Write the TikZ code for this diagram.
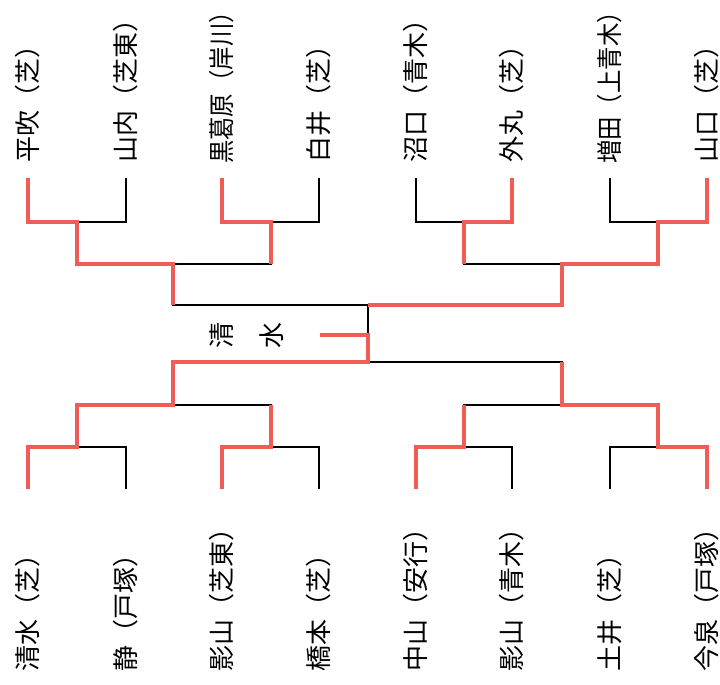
\documentclass[tikz,border=0pt]{standalone}
\usepackage{fontspec}
\usepackage{graphicx}
\newfontfamily\jpfont{Noto Sans CJK JP}
\definecolor{winred}{RGB}{240,92,88}
\begin{document}
\begin{tikzpicture}[x=1pt,y=-1pt,
  namebox/.style={rotate=90,inner sep=0pt,font=\jpfont\fontsize{26pt}{26pt}\selectfont,
    text height=22.9pt,text depth=3.1pt},
  labeltop/.style={namebox,anchor=west},
  labelbot/.style={namebox,anchor=west},
  bline/.style={draw=black,line width=1.3pt},
  rline/.style={draw=winred,line width=4pt}]
\useasboundingbox (0,0) rectangle (720,685);
% leaf coordinates
\foreach \i/\x in {1/28,2/126,3/222,4/319,5/416,6/512,7/610,8/707}{
  \coordinate (t\i) at (\x,178);
  \coordinate (b\i) at (\x,489);
}
% junctions top
\coordinate (ta1) at (77,222);
\coordinate (ta2) at (271,222);
\coordinate (ta3) at (464,222);
\coordinate (ta4) at (658,222);
\coordinate (tb1) at (173,264);
\coordinate (tb2) at (562,264);
\coordinate (tc) at (368,305);
% junctions bottom
\coordinate (ba1) at (77,447);
\coordinate (ba2) at (271,447);
\coordinate (ba3) at (464,447);
\coordinate (ba4) at (658,447);
\coordinate (bb1) at (173,405);
\coordinate (bb2) at (562,405);
\coordinate (bc) at (368,362);
\coordinate (wm) at (368,335);
\coordinate (w) at (320,335);

% black bracket
\path[bline] (t1) |- (ta1) -| (t2);
\path[bline] (t3) |- (ta2) -| (t4);
\path[bline] (t5) |- (ta3) -| (t6);
\path[bline] (t7) |- (ta4) -| (t8);
\path[bline] (ta1) |- (tb1) -| (ta2);
\path[bline] (ta3) |- (tb2) -| (ta4);
\path[bline] (tb1) |- (tc) -| (tb2);
\path[bline] (b1) |- (ba1) -| (b2);
\path[bline] (b3) |- (ba2) -| (b4);
\path[bline] (b5) |- (ba3) -| (b6);
\path[bline] (b7) |- (ba4) -| (b8);
\path[bline] (ba1) |- (bb1) -| (ba2);
\path[bline] (ba3) |- (bb2) -| (ba4);
\path[bline] (bb1) |- (bc) -| (bb2);
\path[bline] (tc) -- (bc);

% red winner paths
\path[rline] (t1) |- (ta1) |- (tb1) -- (tb1 |- tc);
\path[rline] (t3) |- (ta2) -- (ta2 |- tb1);
\path[rline] (t6) |- (ta3) -- (ta3 |- tb2);
\path[rline] (t8) |- (ta4) |- (tb2) |- (tc);
\path[rline] (b1) |- (ba1) |- (bb1) |- (bc) -- (wm) -- (w);
\path[rline] (b3) |- (ba2) -- (ba2 |- bb1);
\path[rline] (b5) |- (ba3) -- (ba3 |- bb2);
\path[rline] (b8) |- (ba4) |- (bb2) -- (bb2 |- bc);

% top names
\node[labeltop] (n1) at (28,163) {平吹（芝）};
\node[labeltop] (n2) at (126,163) {山内（芝東）};
\node[labeltop] (n3) at (222,164) {\scalebox{0.9}[1]{黒葛原（岸川）}};
\node[labeltop] (n4) at (319,163) {白井（芝）};
\node[labeltop] (n5) at (416,163) {沼口（青木）};
\node[labeltop] (n6) at (512,163) {外丸（芝）};
\node[labeltop] (n7) at (610,164) {\scalebox{0.9}[1]{増田（上青木）}};
\node[labeltop] (n8) at (707,163) {山口（芝）};
% bottom names
\node[labelbot] (m1) at (28,672) {清水（芝）};
\node[labelbot] (m2) at (126,672) {静（戸塚）};
\node[labelbot] (m3) at (222,672) {影山（芝東）};
\node[labelbot] (m4) at (319,672) {橋本（芝）};
\node[labelbot] (m5) at (416,672) {中山（安行）};
\node[labelbot] (m6) at (512,672) {影山（青木）};
\node[labelbot] (m7) at (610,672) {土井（芝）};
\node[labelbot] (m8) at (707,672) {今泉（戸塚）};
% champion
\node[namebox] (c1) at (222,335) {清};
\node[namebox] (c2) at (272,335) {水};
\end{tikzpicture}
\end{document}
